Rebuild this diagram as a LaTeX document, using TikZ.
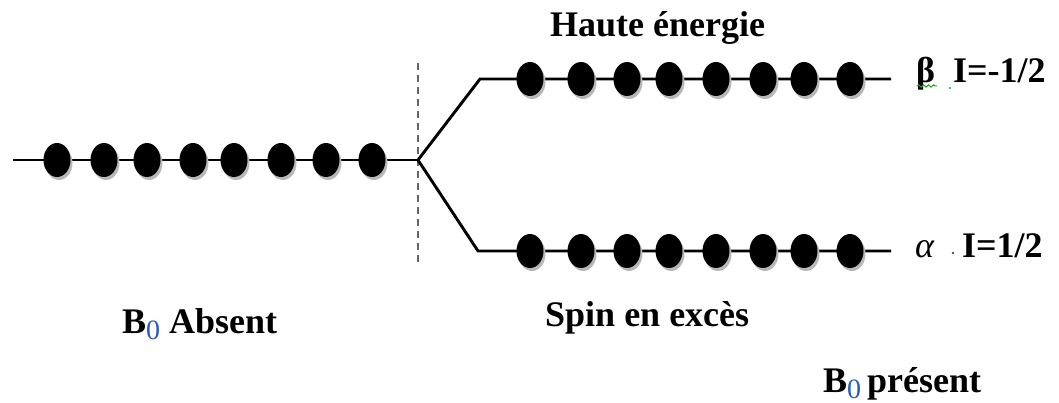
\documentclass[tikz,border=0pt]{standalone}
\usepackage{fontspec}
\setmainfont{Liberation Serif}
\usetikzlibrary{decorations.pathmorphing}

\definecolor{zeroblue}{RGB}{40,90,190}
\definecolor{spellgreen}{RGB}{40,160,40}

\tikzset{
  level/.style={line width=2.9pt, black},
  field/.style={line width=2.7pt, black!60, dash pattern=on 7pt off 5pt},
  lbl/.style={inner sep=0pt, anchor=base west, font=\fontsize{36}{40}\selectfont\bfseries},
  spin/.pic={
    \fill[black!28] (2,3) ellipse (13.5pt and 17pt);
    \fill[black] (0,0) ellipse (13.5pt and 17pt);
  }
}
\newcommand{\subzero}{\raisebox{-0.18em}{\fontsize{28}{28}\selectfont\mdseries\color{zeroblue}0}}

\begin{document}
\begin{tikzpicture}[x=1pt, y=-1pt]
  \useasboundingbox (0,0) rectangle (1059,403);

  % energy levels
  \coordinate (start) at (13,160);
  \coordinate (split) at (418,160);
  \coordinate (upK) at (480,79);
  \coordinate (upEnd) at (891,79);
  \coordinate (loK) at (478,251);
  \coordinate (loEnd) at (891,251);
  \coordinate (fieldTop) at (418,63);
  \coordinate (fieldBot) at (418,263);

  \draw[field] (fieldTop) -- (fieldBot);
  \draw[level] (start) -- (split);
  \draw[level, line join=miter] (split) -- (upK) -- (upEnd);
  \draw[level, line join=miter] (split) -- (loK) -- (loEnd);

  % spins without field
  \foreach \x in {57,104,147,193,234,281,326,372}
    \pic at (\x,160) {spin};

  % spins with field
  \foreach \x in {530,581,627,669,716,763,804,850} {
    \pic at (\x,79) {spin};
    \pic at (\x,251) {spin};
  }

  % labels
  \node[lbl] (haute) at (550,37) {Haute énergie};
  \node[lbl] (absent) at (122,333) {B\subzero\ Absent};
  \node[lbl] (exces) at (545,326) {Spin en excès};
  \node[lbl] (present) at (823,392) {B\subzero\,présent};

  \node[lbl] (beta) at (916,83) {β};
  \node[lbl] (Ibeta) at (953,83) {I=-1/2};
  \draw[spellgreen, line width=1pt, decorate,
        decoration={snake, amplitude=1.2pt, segment length=5pt}]
        (917,86) -- (937,86);
  \fill[spellgreen] (950,88) circle (1.1pt);

  \node[lbl, font=\fontsize{36}{40}\selectfont\itshape] (alpha) at (915,257) {α};
  \fill[black!70] (953,253) circle (1.4pt);
  \node[lbl] (Ialpha) at (962,257) {I=1/2};
\end{tikzpicture}
\end{document}
